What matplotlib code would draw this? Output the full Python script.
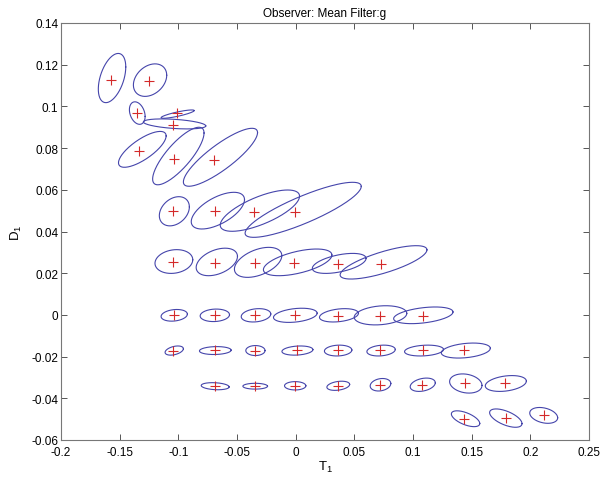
import numpy as np
import matplotlib
matplotlib.use('Agg')
import matplotlib.pyplot as plt

# marker positions (true values)
mark_t = [-0.1574, -0.1247, -0.1349, -0.1013, -0.1042, -0.1332, -0.1036, -0.0695,
          -0.1042, -0.0689, -0.0351, -0.0002,
          -0.1042, -0.0686, -0.0343, -0.0013, 0.0365, 0.0729,
          -0.1036, -0.0686, -0.0345, -0.0004, 0.0365, 0.0715, 0.1085,
          -0.1042, -0.0686, -0.0345, 0.0010, 0.0357, 0.0721, 0.1085, 0.1431,
          -0.0686, -0.0345, -0.0004, 0.0365, 0.0721, 0.1077, 0.1446, 0.1787,
          0.1437, 0.1793, 0.2114]
mark_d = [0.1127, 0.1123, 0.0967, 0.0967, 0.0911, 0.0788, 0.0746, 0.0743,
          0.0497, 0.0497, 0.0492, 0.0492,
          0.0252, 0.0249, 0.0248, 0.0248, 0.0243, 0.0243,
          0.0, 0.0, 0.0, 0.0, -0.0003, -0.0003, -0.0003,
          -0.0172, -0.0170, -0.0172, -0.0170, -0.0170, -0.0170, -0.0170, -0.0170,
          -0.0342, -0.0340, -0.0340, -0.0340, -0.0335, -0.0335, -0.0328, -0.0328,
          -0.0499, -0.0494, -0.0480]

# ellipse centres, half extents and tilt (correlation)
ell_t = [-0.1565, -0.1241, -0.1350, -0.1006, -0.1032, -0.1307, -0.1000, -0.0641,
         -0.1034, -0.0663, -0.0305, 0.0064,
         -0.1038, -0.0672, -0.0320, 0.0017, 0.0371, 0.0749,
         -0.1035, -0.0689, -0.0338, -0.0003, 0.0369, 0.0723, 0.1088,
         -0.1035, -0.0685, -0.0343, 0.0015, 0.0362, 0.0728, 0.1094, 0.1450,
         -0.0686, -0.0345, -0.0004, 0.0363, 0.0723, 0.1083, 0.1450, 0.1791,
         0.1448, 0.1791, 0.2114]
ell_d = [0.1136, 0.1126, 0.0968, 0.0963, 0.0916, 0.0794, 0.0762, 0.0756,
         0.0497, 0.0500, 0.0500, 0.0504,
         0.0256, 0.0254, 0.0252, 0.0252, 0.0247, 0.0252,
         -0.0002, -0.0002, -0.0002, -0.0002, -0.0002, -0.0002, -0.0002,
         -0.0171, -0.0171, -0.0171, -0.0171, -0.0171, -0.0171, -0.0171, -0.0171,
         -0.0342, -0.0342, -0.0340, -0.0340, -0.0335, -0.0335, -0.0329, -0.0329,
         -0.0498, -0.0495, -0.0482]
ell_sx = [0.0117, 0.0142, 0.0067, 0.0141, 0.0266, 0.0203, 0.0219, 0.0316,
          0.0128, 0.0227, 0.0338, 0.0495,
          0.0161, 0.0176, 0.0202, 0.0292, 0.0229, 0.0370,
          0.0112, 0.0125, 0.0126, 0.0186, 0.0166, 0.0224, 0.0253,
          0.0078, 0.0135, 0.0082, 0.0132, 0.0117, 0.0121, 0.0166, 0.0209,
          0.0119, 0.0105, 0.0091, 0.0097, 0.0088, 0.0107, 0.0138, 0.0175,
          0.0121, 0.0138, 0.0119]
ell_sy = [0.0118, 0.0078, 0.0054, 0.0020, 0.0024, 0.0086, 0.0138, 0.0139,
          0.0070, 0.0088, 0.0099, 0.0132,
          0.0057, 0.0066, 0.0072, 0.0064, 0.0048, 0.0080,
          0.0028, 0.0030, 0.0032, 0.0034, 0.0032, 0.0046, 0.0040,
          0.0022, 0.0019, 0.0024, 0.0022, 0.0026, 0.0026, 0.0026, 0.0036,
          0.0017, 0.0014, 0.0020, 0.0022, 0.0030, 0.0032, 0.0046, 0.0038,
          0.0038, 0.0044, 0.0038]
ell_rho = [0.45, 0.3, -0.3, 0.85, -0.4, 0.75, 0.8, 0.85,
           0.3, 0.6, 0.7, 0.85,
           0.15, 0.4, 0.45, 0.55, 0.5, 0.75,
           0.2, 0.1, 0.2, 0.3, 0.3, 0.2, 0.4,
           0.4, 0.1, 0.0, 0.2, 0.1, 0.2, 0.2, 0.3,
           -0.2, 0.0, 0.0, 0.3, 0.2, 0.3, -0.2, 0.3,
           -0.6, -0.6, -0.3]

plt.rcParams['font.family'] = ['Liberation Sans', 'DejaVu Sans']
plt.rcParams['mathtext.fontset'] = 'custom'
plt.rcParams['mathtext.rm'] = 'Liberation Sans'
plt.rcParams['mathtext.it'] = 'Liberation Sans'

fig = plt.figure(figsize=(6.03, 4.81), dpi=100)
ax = fig.add_axes([61 / 603, 40 / 481, 528 / 603, 417 / 481])

t = np.linspace(0, 2 * np.pi, 200)
for cx, cy, sx, sy, r in zip(ell_t, ell_d, ell_sx, ell_sy, ell_rho):
    x = cx + sx * np.cos(t)
    y = cy + sy * (r * np.cos(t) + np.sqrt(1 - r ** 2) * np.sin(t))
    ax.plot(x, y, color='#4545ab', lw=0.8)

ax.plot(mark_t, mark_d, '+', color='#d42a2a', ms=7, mew=0.8)

ax.set_xlim(-0.2, 0.25)
ax.set_ylim(-0.06, 0.14)
ax.set_xticks(np.arange(-0.2, 0.2501, 0.05))
ax.set_yticks(np.arange(-0.06, 0.1401, 0.02))
ax.set_xticklabels(['-0.2', '-0.15', '-0.1', '-0.05', '0', '0.05', '0.1', '0.15', '0.2', '0.25'])
ax.set_yticklabels(['-0.06', '-0.04', '-0.02', '0', '0.02', '0.04', '0.06', '0.08', '0.1', '0.12', '0.14'])
ax.tick_params(direction='in', top=True, right=True, length=4, labelsize=8.5,
               width=0.7, color='#555555', pad=2)
ax.tick_params(axis='x', pad=4)
for s in ax.spines.values():
    s.set_linewidth(0.8)
    s.set_color('#777777')

ax.set_title('Observer: Mean Filter:g', fontsize=8.5, pad=5)
ax.set_xlabel('T$_1$', fontsize=9.5, labelpad=1)
ax.set_ylabel('D$_1$', fontsize=9.5, labelpad=5)

fig.savefig('out.png', dpi=100)
